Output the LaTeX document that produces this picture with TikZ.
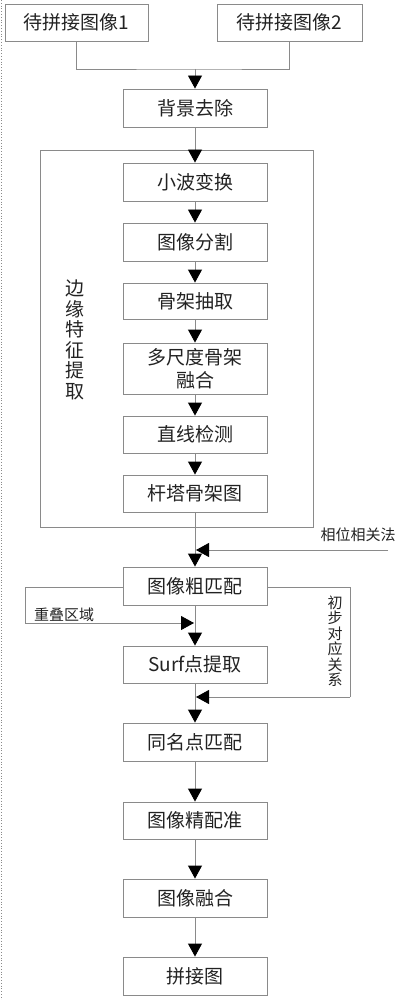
\documentclass[tikz,border=0pt]{standalone}
\usepackage{fontspec}
\setmainfont{Noto Sans CJK SC}
\usetikzlibrary{arrows.meta}
\definecolor{linegray}{HTML}{8A8A8A}
\definecolor{txt}{HTML}{222222}
\tikzset{
  box/.style={draw=linegray, line width=0.9pt, minimum width=144pt, minimum height=38pt, inner sep=0pt, font=\fontsize{19}{22}\selectfont, text=txt, align=center},
  conn/.style={draw=linegray, line width=0.9pt},
  arr/.style={conn, -{Triangle[width=14pt,length=13pt,color=black]}},
  small/.style={font=\fontsize{15}{17}\selectfont, text=txt, inner sep=0pt, align=center},
}
\begin{document}
\begin{tikzpicture}[x=1pt,y=-1pt]
\useasboundingbox (0,0) rectangle (402,1000);
\draw[linegray, dotted, line width=0.8pt] (1,0) -- (1,1000);
% top inputs
\node[box, minimum width=143pt, minimum height=37pt] (in1) at (76.5,22.5) {待拼接图像1};
\node[box, minimum width=145pt, minimum height=37pt] (in2) at (289.5,22.5) {待拼接图像2};
\node[box] (bg) at (195,108) {背景去除};
\coordinate (m) at (195,69);
\draw[conn] (in1.south) |- (m) -| (in2.south);
\draw[arr] (m) -- (bg.north);
% frame
\node[draw=linegray, line width=0.9pt, minimum width=273pt, minimum height=377pt, inner sep=0pt] (frame) at (176.5,338.5) {};
\node[font=\fontsize{19}{20.5}\selectfont, text=txt, align=center, inner sep=0pt] (edge) at (75,340) {边\\缘\\特\\征\\提\\取};
\node[box] (wave) at (195,182) {小波变换};
\node[box] (seg) at (195,242) {图像分割};
\node[box, minimum height=36pt] (skel) at (195,301) {骨架抽取};
\node[box, minimum height=51pt, font=\fontsize{19}{23}\selectfont] (multi) at (195,368.5) {多尺度骨架\\融合};
\node[box, minimum height=37pt] (line) at (195,434.5) {直线检测};
\node[box, minimum height=37pt] (tower) at (195,493.5) {杆塔骨架图};
\draw[arr] (bg.south) -- (wave.north);
\draw[arr] (wave.south) -- (seg.north);
\draw[arr] (seg.south) -- (skel.north);
\draw[arr] (skel.south) -- (multi.north);
\draw[arr] (multi.south) -- (line.north);
\draw[arr] (line.south) -- (tower.north);
% coarse matching
\node[box] (coarse) at (195,586) {图像粗匹配};
\draw[arr] (tower.south) -- (coarse.north);
\node[small] (phase) at (358,535) {相位相关法};
\coordinate (p1) at (388,550);
\coordinate (p2) at (196,550);
\draw[arr] (p1) -- (p2);
\node[box, minimum height=37pt] (surf) at (195,664.5) {Surf点提取};
\draw[arr] (coarse.south) -- (surf.north);
% overlap region branch
\coordinate (o1) at (25,587);
\coordinate (o2) at (25,623);
\coordinate (o3) at (194,623);
\draw[conn] (coarse.west |- o1) -- (o1) -- (o2);
\draw[arr] (o2) -- (o3);
\node[small, anchor=south] (overlap) at (64,622) {重叠区域};
% initial correspondence branch
\coordinate (c1) at (350,587);
\coordinate (c2) at (350,697);
\coordinate (c3) at (196,697);
\draw[conn] (coarse.east |- c1) -- (c1) -- (c2);
\draw[arr] (c2) -- (c3);
\node[small, font=\fontsize{15}{15.5}\selectfont] (init) at (335,641) {初\\步\\对\\应\\关\\系};
% lower chain
\node[box] (same) at (195,742) {同名点匹配};
\node[box, minimum height=37pt] (fine) at (195,820.5) {图像精配准};
\node[box] (fuse) at (195,898) {图像融合};
\node[box] (final) at (195,976) {拼接图};
\draw[arr] (surf.south) -- (same.north);
\draw[arr] (same.south) -- (fine.north);
\draw[arr] (fine.south) -- (fuse.north);
\draw[arr] (fuse.south) -- (final.north);
\end{tikzpicture}
\end{document}
